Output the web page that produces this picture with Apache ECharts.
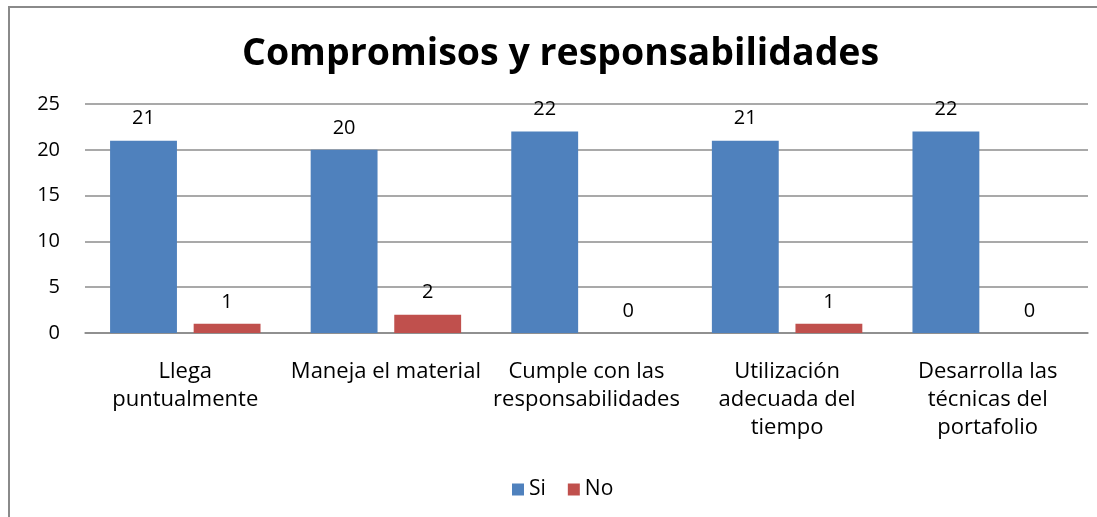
<!DOCTYPE html>
<html><head><meta charset="utf-8">
<script src="https://cdn.jsdelivr.net/npm/echarts@6/dist/echarts.min.js"></script>
<style>
html,body{margin:0;padding:0;background:#fff;}
#frame{position:absolute;left:8px;top:6px;width:1089px;height:511px;border-left:2px solid #8a8a8a;border-top:2px solid #8a8a8a;box-sizing:border-box;}
#c{position:absolute;left:0;top:0;width:1097px;height:517px;}
</style>
</head><body>
<div id="frame"></div>
<div id="c"></div>
<script>
const categories = ["Llega\npuntualmente", "Maneja el material", "Cumple con las\nresponsabilidades", "Utilización\nadecuada del\ntiempo", "Desarrolla las\ntécnicas del\nportafolio"];
const siValues = [21, 20, 22, 21, 22];
const noValues = [1, 2, 0, 1, 0];
const yTicks = [0, 5, 10, 15, 20, 25];

const font = "Open Sans";
const chart = echarts.init(document.getElementById('c'), null, {renderer: 'canvas'});
chart.setOption({
  backgroundColor: 'transparent',
  animation: false,
  title: {
    text: 'Compromisos y responsabilidades',
    left: 237, top: 30,
    textStyle: {fontFamily: font, fontSize: 37.5, fontWeight: 'bold', color: '#000'}
  },
  legend: {
    bottom: 12, left: 507,
    itemWidth: 12, itemHeight: 12, itemGap: 22,
    icon: 'rect',
    textStyle: {fontFamily: font, fontSize: 21, color: '#000'},
    data: ['Si', 'No']
  },
  grid: {left: 85, right: 9, top: 104, bottom: 184, containLabel: false},
  xAxis: {
    type: 'category', data: categories,
    axisLine: {lineStyle: {color: '#888', width: 1.5}},
    axisTick: {show: false},
    axisLabel: {fontFamily: font, fontSize: 22, color: '#000', margin: 25, lineHeight: 28, interval: 0}
  },
  yAxis: {
    type: 'value', min: 0, max: 25, interval: 5,
    axisLine: {show: false},
    axisTick: {show: false},
    axisLabel: {fontFamily: font, fontSize: 20, color: '#000', margin: 25,
      formatter: v => yTicks.includes(v) ? String(v) : ''},
    splitLine: {lineStyle: {color: '#8c8c8c', width: 1.5}}
  },
  series: [
    {name: 'Si', type: 'bar', data: siValues, barGap: '25%', barCategoryGap: '25%',
     itemStyle: {color: '#4f81bd'},
     label: {show: true, position: 'top', distance: 12, fontFamily: font, fontSize: 20, color: '#000'}},
    {name: 'No', type: 'bar', data: noValues,
     itemStyle: {color: '#c0504d'},
     label: {show: true, position: 'top', distance: 12, fontFamily: font, fontSize: 20, color: '#000'}}
  ]
});
</script>
</body></html>
